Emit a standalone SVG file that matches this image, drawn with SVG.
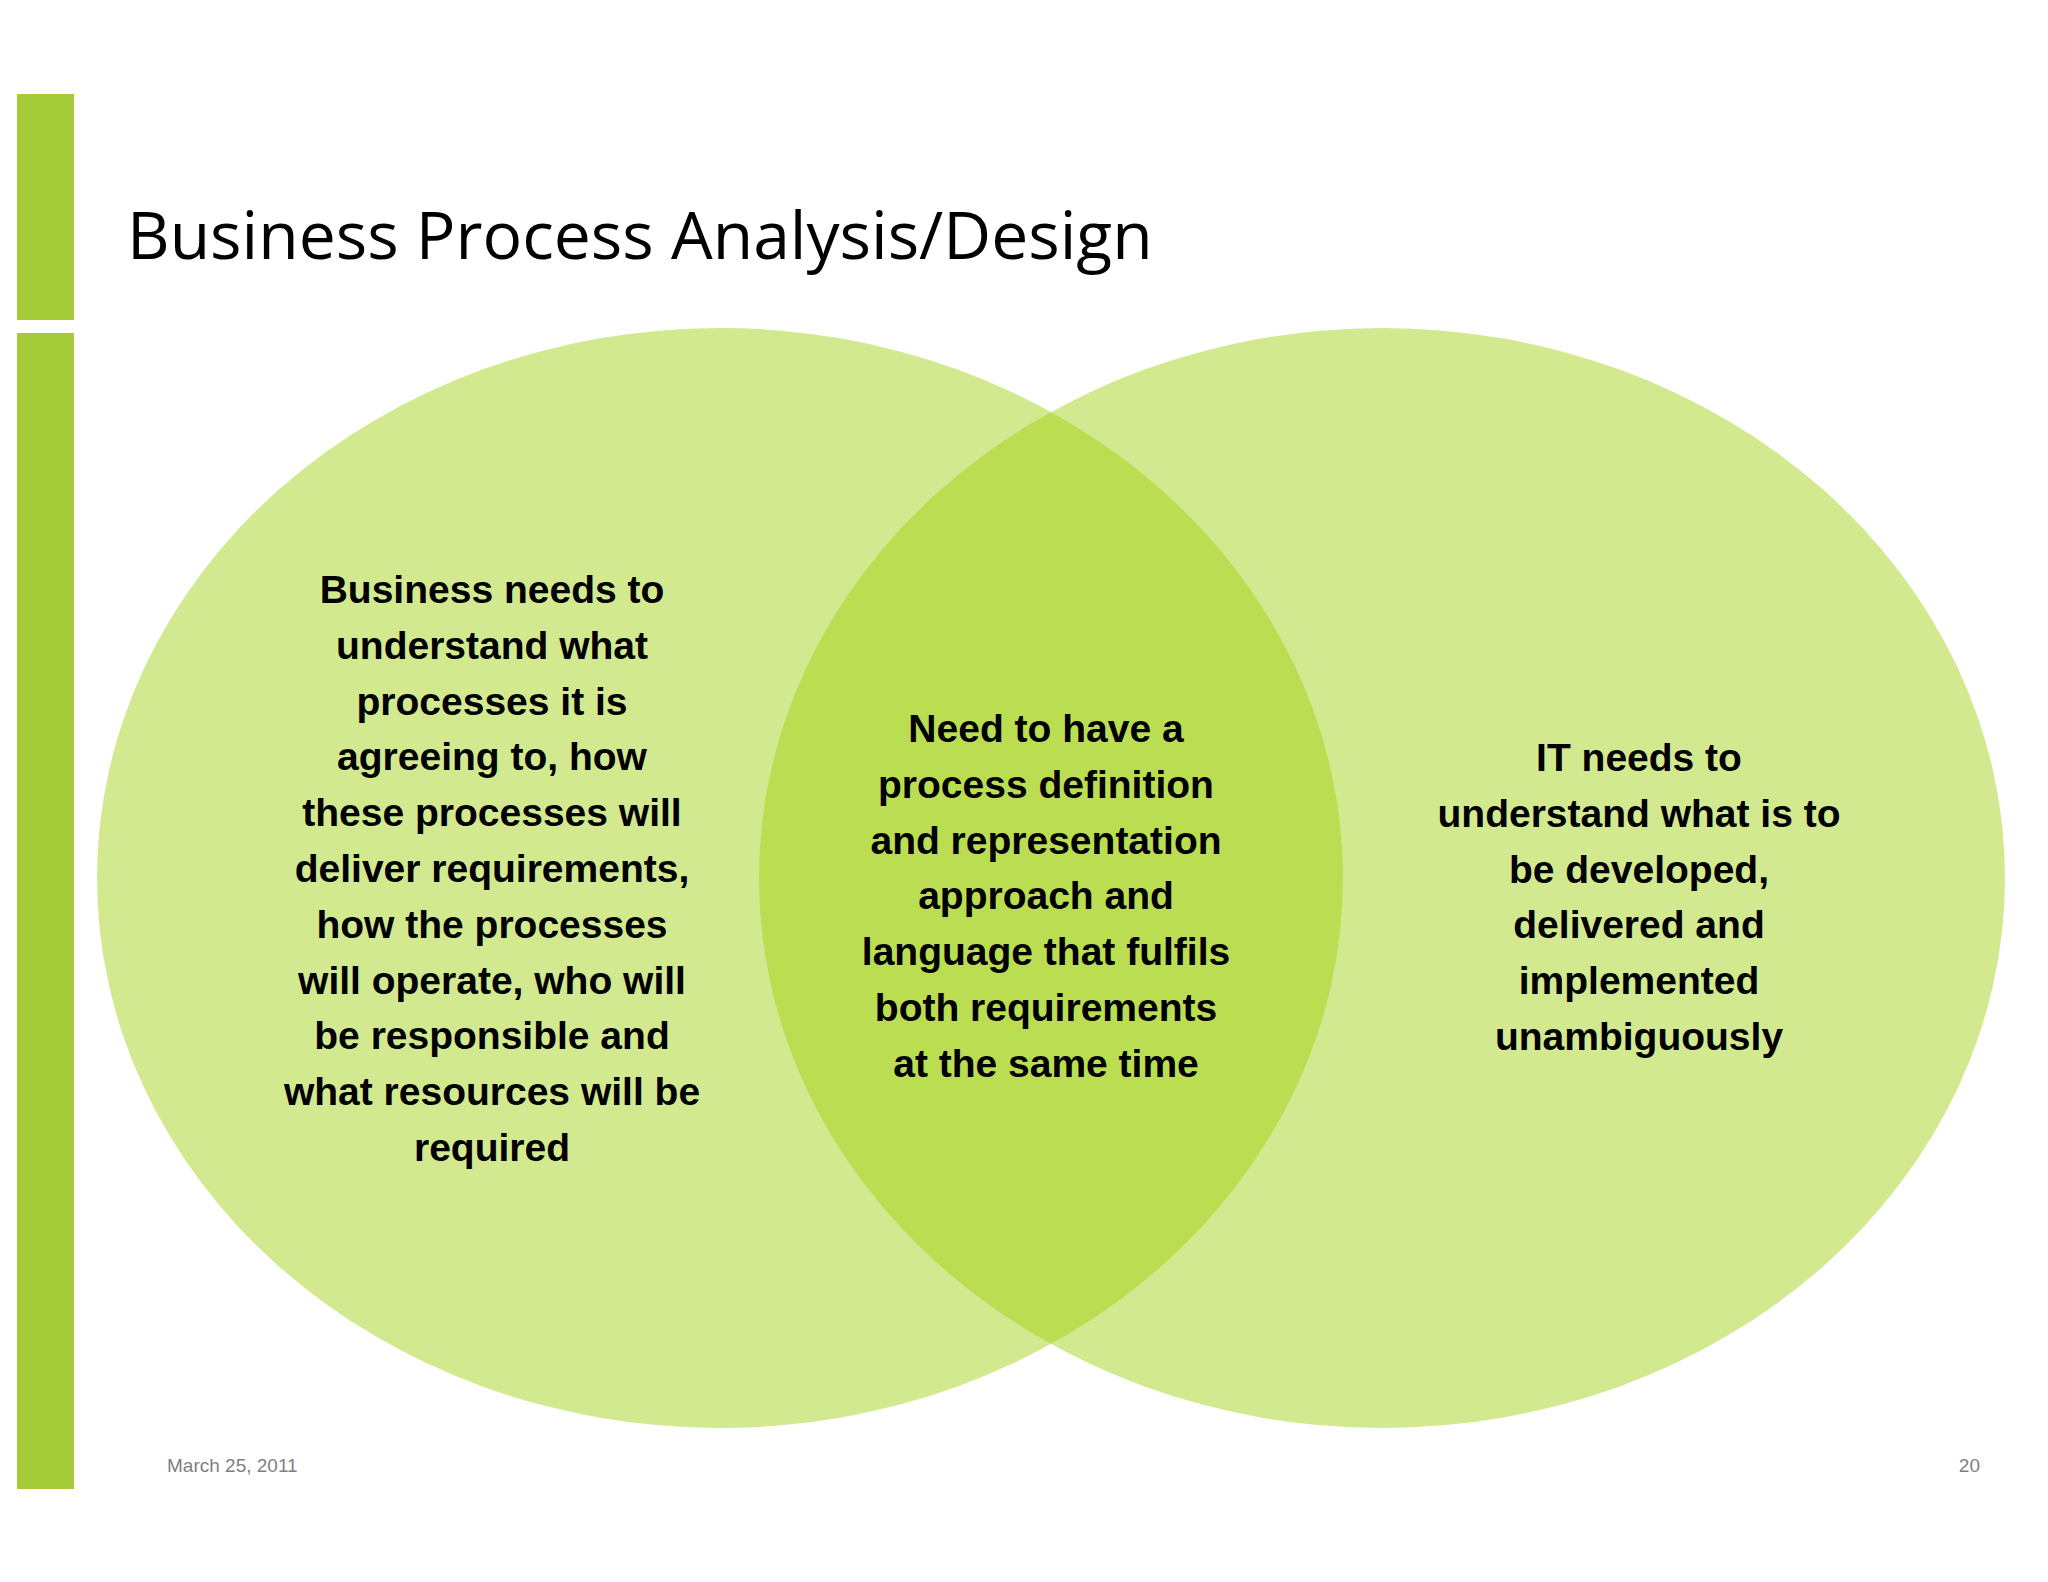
<svg xmlns="http://www.w3.org/2000/svg" width="2048" height="1582" viewBox="0 0 2048 1582">
<style>
.bar{fill:#a6cb38}
.c{fill:#9dce06;fill-opacity:0.45}
.t{font-family:"Liberation Sans",Arial,sans-serif;font-weight:bold;font-size:39px;fill:#000;text-anchor:middle}
.f{font-family:"Liberation Sans",Arial,sans-serif;font-size:19px;fill:#7f7f7f}
</style>
<rect width="2048" height="1582" fill="#fff"/>
<rect class="bar" x="17" y="94" width="57" height="226"/>
<rect class="bar" x="17" y="333" width="57" height="1156"/>
<text x="127" y="259" font-family="'Open Sans','Liberation Sans',sans-serif" font-size="66" fill="#000">Business Process Analysis/Design</text>
<g id="left"><ellipse class="c" cx="720" cy="878" rx="623" ry="550"/></g>
<g id="right"><ellipse class="c" cx="1382" cy="878" rx="623" ry="550"/></g>
<g id="left-text"><text class="t" x="492" y="603">Business needs to<tspan x="492" dy="55.8">understand what</tspan><tspan x="492" dy="55.8">processes it is</tspan><tspan x="492" dy="55.8">agreeing to, how</tspan><tspan x="492" dy="55.8">these processes will</tspan><tspan x="492" dy="55.8">deliver requirements,</tspan><tspan x="492" dy="55.8">how the processes</tspan><tspan x="492" dy="55.8">will operate, who will</tspan><tspan x="492" dy="55.8">be responsible and</tspan><tspan x="492" dy="55.8">what resources will be</tspan><tspan x="492" dy="55.8">required</tspan></text></g>
<g id="mid-text"><text class="t" x="1046" y="742">Need to have a<tspan x="1046" dy="55.8">process definition</tspan><tspan x="1046" dy="55.8">and representation</tspan><tspan x="1046" dy="55.8">approach and</tspan><tspan x="1046" dy="55.8">language that fulfils</tspan><tspan x="1046" dy="55.8">both requirements</tspan><tspan x="1046" dy="55.8">at the same time</tspan></text></g>
<g id="right-text"><text class="t" x="1639" y="771">IT needs to<tspan x="1639" dy="55.8">understand what is to</tspan><tspan x="1639" dy="55.8">be developed,</tspan><tspan x="1639" dy="55.8">delivered and</tspan><tspan x="1639" dy="55.8">implemented</tspan><tspan x="1639" dy="55.8">unambiguously</tspan></text></g>
<g id="connectors"/>
<text class="f" x="167" y="1472">March 25, 2011</text>
<text class="f" x="1980" y="1472" text-anchor="end">20</text>
</svg>
